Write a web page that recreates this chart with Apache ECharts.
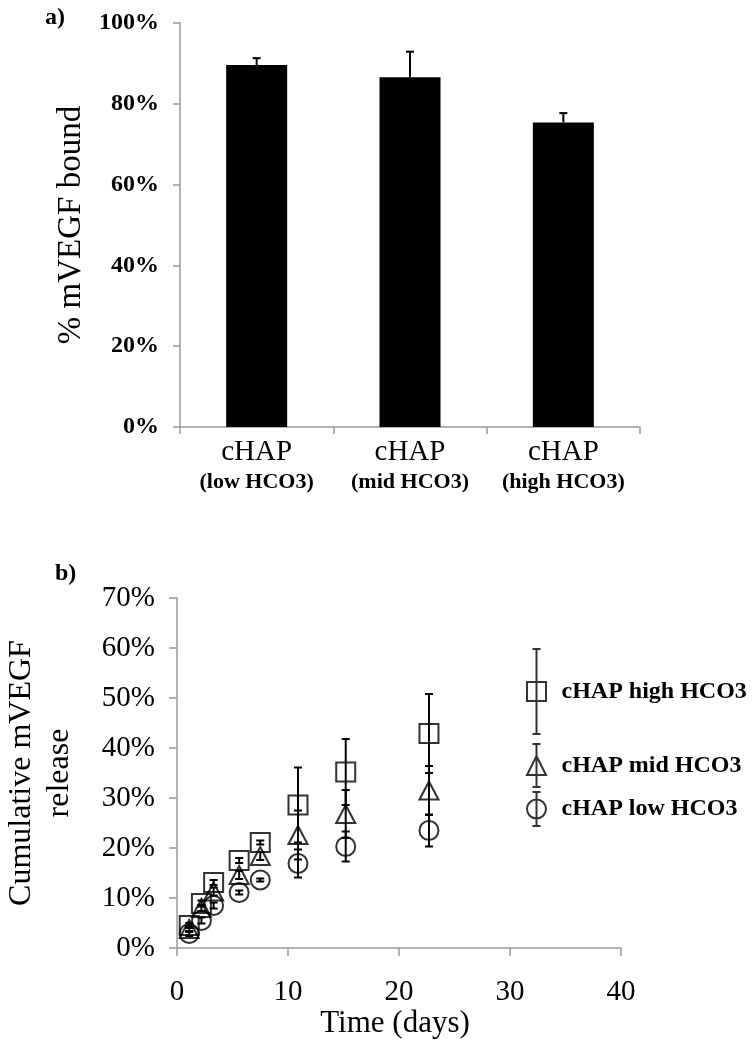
<!DOCTYPE html>
<html>
<head>
<meta charset="utf-8">
<title>mVEGF binding and release</title>
<script src="https://cdn.jsdelivr.net/npm/echarts@6/dist/echarts.min.js"></script>
<style>
  html, body { margin: 0; padding: 0; background: #ffffff; }
  #chart { width: 755px; height: 1050px; }
</style>
</head>
<body>
<div id="chart"></div>
<script>
// a) binding, one bar per cHAP type
let bindGroups = ['low HCO3', 'mid HCO3', 'high HCO3'];
let bindValues = [89.6, 86.6, 75.4];
let bindErr = [1.7, 6.3, 2.3];

// b) cumulative release over time
let days = [1.1, 2.2, 3.3, 5.6, 7.5, 10.9, 15.2, 22.7];
let highValues = [4.5, 8.9, 13.1, 17.5, 21.1, 28.6, 35.2, 42.9];
let highErr = [0.5, 0.6, 0.5, 0.5, 0.4, 7.5, 6.6, 7.9];
let midValues = [3.8, 8.0, 11.3, 14.6, 18.4, 22.6, 26.8, 31.5];
let midErr = [0.6, 0.6, 0.8, 0.8, 0.8, 4.9, 4.8, 4.9];
let lowValues = [2.9, 5.5, 8.5, 11.1, 13.6, 16.9, 20.3, 23.5];
let lowErr = [0.5, 0.6, 0.6, 0.4, 0.3, 2.8, 3.0, 3.2];

let serif = 'Liberation Serif';
let axisGray = '#9a9a9a';

// pair up x / y / err for the series
function points (xs, ys) {
  return xs.map(function (x, i) { return [x, ys[i]]; });
}
function errPoints (xs, ys, es) {
  return xs.map(function (x, i) { return [x, ys[i], es[i]]; });
}

// vertical error bar, both ends capped unless upOnly
function errorBar (upOnly) {
  return function (params, api) {
    let x = api.value(0);
    let y = api.value(1);
    let e = api.value(2);
    let top = api.coord([x, y + e]);
    let bottom = api.coord([x, upOnly ? y : y - e]);
    let style = { stroke: '#000', lineWidth: 2 };
    let children = [
      { type: 'line', shape: { x1: top[0], y1: top[1], x2: bottom[0], y2: bottom[1] }, style: style },
      { type: 'line', shape: { x1: top[0] - 4, y1: top[1], x2: top[0] + 4, y2: top[1] }, style: style }
    ];
    if (!upOnly) {
      children.push({ type: 'line', shape: { x1: bottom[0] - 4, y1: bottom[1], x2: bottom[0] + 4, y2: bottom[1] }, style: style });
    }
    return { type: 'group', children: children };
  };
}

let markerStyle = { color: 'rgba(0,0,0,0)', borderColor: '#000', borderWidth: 2 };

// legend icons carry their error bar like the original
let iconHigh = 'path://M6,0L14,0M10,0L10,85M6,85L14,85M0.5,33L19.5,33L19.5,52L0.5,52Z';
let iconMid = 'path://M6,0L14,0M10,0L10,43M6,43L14,43M10,12L19.5,31L0.5,31Z';
let iconLow = 'path://M6,0L14,0M10,0L10,34M6,34L14,34M19.5,17A9.5,9.5,0,1,1,0.5,17A9.5,9.5,0,1,1,19.5,17Z';

function legendAt (name, icon, top, h) {
  return {
    data: [{ name: name, icon: icon }],
    left: 526,
    top: top,
    padding: 0,
    itemWidth: 20,
    itemHeight: h,
    selectedMode: false,
    itemStyle: { color: 'rgba(0,0,0,0)', borderColor: '#000', borderWidth: 2 },
    textStyle: { fontFamily: serif, fontWeight: 'bold', fontSize: 24, color: '#000', padding: [0, 0, 0, 10] }
  };
}

let myChart = echarts.init(document.getElementById('chart'));

myChart.setOption({
  animation: false,
  backgroundColor: '#ffffff',
  title: [
    { text: 'a)', left: 40, top: 1, textStyle: { fontFamily: serif, fontWeight: 'bold', fontSize: 24, color: '#000' } },
    { text: 'b)', left: 50, top: 557, textStyle: { fontFamily: serif, fontWeight: 'bold', fontSize: 24, color: '#000' } }
  ],
  legend: [
    legendAt('cHAP high HCO3', iconHigh, 648, 85),
    legendAt('cHAP mid HCO3', iconMid, 743, 43),
    legendAt('cHAP low HCO3', iconLow, 791, 34)
  ],
  grid: [
    { left: 180, top: 23, width: 460, height: 404, outerBoundsMode: 'none', containLabel: false },
    { left: 177, top: 598, width: 444, height: 350, outerBoundsMode: 'none', containLabel: false }
  ],
  xAxis: [
    {
      gridIndex: 0,
      type: 'category',
      data: bindGroups,
      axisLine: { lineStyle: { color: axisGray, width: 1.5 } },
      axisTick: { show: true, alignWithLabel: false, length: 7, lineStyle: { color: axisGray, width: 1.5 } },
      axisLabel: {
        margin: 10,
        interval: 0,
        formatter: function (v) { return '{a|cHAP}\n{b|(' + v + ')}'; },
        rich: {
          a: { fontFamily: serif, fontSize: 29, color: '#000', lineHeight: 30 },
          b: { fontFamily: serif, fontSize: 22, fontWeight: 'bold', color: '#000', lineHeight: 30 }
        }
      }
    },
    {
      gridIndex: 1,
      type: 'value',
      min: 0,
      max: 40,
      interval: 10,
      name: 'Time (days)',
      nameLocation: 'middle',
      nameGap: 60,
      nameTextStyle: { fontFamily: serif, fontSize: 31, color: '#000', padding: [0, 8, 0, 0] },
      splitLine: { show: false },
      axisLine: { lineStyle: { color: axisGray, width: 1.5 } },
      axisTick: { show: true, length: 8, lineStyle: { color: axisGray, width: 1.5 } },
      axisLabel: { margin: 30, fontFamily: serif, fontSize: 29, color: '#000' }
    }
  ],
  yAxis: [
    {
      gridIndex: 0,
      type: 'value',
      min: 0,
      max: 100,
      interval: 20,
      name: '% mVEGF bound',
      nameLocation: 'middle',
      nameGap: 91,
      nameTextStyle: { fontFamily: serif, fontSize: 33, color: '#000' },
      splitLine: { show: false },
      axisLine: { show: true, lineStyle: { color: axisGray, width: 1.5 } },
      axisTick: { show: true, length: 7, lineStyle: { color: axisGray, width: 1.5 } },
      axisLabel: { margin: 21, fontFamily: serif, fontSize: 24, fontWeight: 'bold', color: '#000', formatter: '{value}%' }
    },
    {
      gridIndex: 1,
      type: 'value',
      min: 0,
      max: 70,
      interval: 10,
      name: 'Cumulative mVEGF\nrelease',
      nameLocation: 'middle',
      nameGap: 98,
      nameTextStyle: { fontFamily: serif, fontSize: 32, color: '#000', lineHeight: 38 },
      splitLine: { show: false },
      axisLine: { show: true, lineStyle: { color: axisGray, width: 1.5 } },
      axisTick: { show: true, length: 8, lineStyle: { color: axisGray, width: 1.5 } },
      axisLabel: { margin: 22, fontFamily: serif, fontSize: 29, color: '#000', formatter: '{value}%' }
    }
  ],
  series: [
    {
      type: 'bar',
      xAxisIndex: 0,
      yAxisIndex: 0,
      barWidth: 61,
      itemStyle: { color: '#000' },
      data: bindValues
    },
    {
      type: 'custom',
      xAxisIndex: 0,
      yAxisIndex: 0,
      renderItem: errorBar(true),
      data: errPoints([0, 1, 2], bindValues, bindErr),
      z: 3
    },
    // error bars under the open markers
    { type: 'custom', xAxisIndex: 1, yAxisIndex: 1, renderItem: errorBar(false), data: errPoints(days, highValues, highErr) },
    { type: 'custom', xAxisIndex: 1, yAxisIndex: 1, renderItem: errorBar(false), data: errPoints(days, midValues, midErr) },
    { type: 'custom', xAxisIndex: 1, yAxisIndex: 1, renderItem: errorBar(false), data: errPoints(days, lowValues, lowErr) },
    {
      name: 'cHAP high HCO3',
      type: 'scatter',
      xAxisIndex: 1,
      yAxisIndex: 1,
      symbol: 'rect',
      symbolSize: 19,
      itemStyle: markerStyle,
      data: points(days, highValues)
    },
    {
      name: 'cHAP mid HCO3',
      type: 'scatter',
      xAxisIndex: 1,
      yAxisIndex: 1,
      symbol: 'triangle',
      symbolSize: [19, 18],
      itemStyle: markerStyle,
      data: points(days, midValues)
    },
    {
      name: 'cHAP low HCO3',
      type: 'scatter',
      xAxisIndex: 1,
      yAxisIndex: 1,
      symbol: 'circle',
      symbolSize: 19,
      itemStyle: markerStyle,
      data: points(days, lowValues)
    }
  ]
});
</script>
</body>
</html>
